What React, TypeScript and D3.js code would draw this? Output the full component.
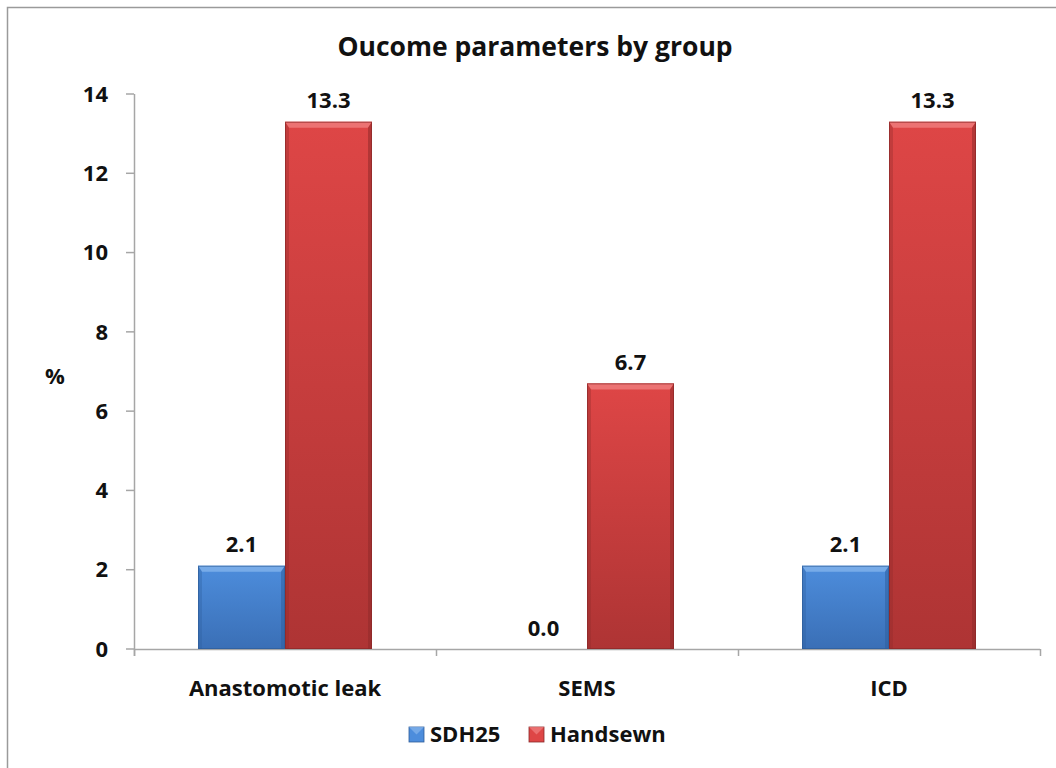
import React, { useEffect, useRef } from "react";
import * as d3 from "d3";

const categories = ["Anastomotic leak", "SEMS", "ICD"];
const seriesNames = ["SDH25", "Handsewn"];
const sdh25Values = [2.1, 0.0, 2.1];
const handsewnValues = [13.3, 6.7, 13.3];
const yTicks = [0, 2, 4, 6, 8, 10, 12, 14];

const seriesColors: Record<string, { top: string; bottom: string; bevel: string; edge: string; stroke: string }> = {
  SDH25: { top: "#4d8ddc", bottom: "#3a6fb6", bevel: "#7fb0ea", edge: "#2f5f9e", stroke: "#2e5d99" },
  Handsewn: { top: "#de4646", bottom: "#ae3434", bevel: "#ee7b7b", edge: "#8f2a2a", stroke: "#8a2828" },
};

const W = 1056;
const H = 768;
const FONT = "'Open Sans', Lato, sans-serif";
const LABEL_SIZE = 22;

export default function App() {
  const ref = useRef<SVGSVGElement | null>(null);

  useEffect(() => {
    const svg = d3.select(ref.current);
    svg.selectAll("*").remove();

    const left = 134;
    const right = 1040;
    const top = 94;
    const bottom = 649;

    const defs = svg.append("defs");
    seriesNames.forEach((s, i) => {
      const g = defs
        .append("linearGradient")
        .attr("id", `grad${i}`)
        .attr("x1", 0)
        .attr("y1", 0)
        .attr("x2", 0)
        .attr("y2", 1);
      g.append("stop").attr("offset", "0%").attr("stop-color", seriesColors[s].top);
      g.append("stop").attr("offset", "100%").attr("stop-color", seriesColors[s].bottom);
    });

    // frame (left and top edges)
    svg
      .append("path")
      .attr("d", `M7.5,${H} L7.5,7.5 L${W},7.5`)
      .attr("fill", "none")
      .attr("stroke", "#9a9a9a")
      .attr("stroke-width", 1.5);

    const y = d3.scaleLinear().domain([0, 14]).range([bottom, top]);
    const x0 = d3.scaleBand<string>().domain(categories).range([left, right]).padding(0);
    const groupW = 174;
    const x1 = d3.scaleBand<string>().domain(seriesNames).range([0, groupW]).padding(0);
    const groupOffset = (x0.bandwidth() - groupW) / 2;

    const label = (sel: any, size = LABEL_SIZE) =>
      sel
        .attr("font-family", FONT)
        .attr("font-weight", "bold")
        .attr("font-size", size)
        .attr("fill", "#111");

    // title
    label(
      svg.append("text").attr("x", 535).attr("y", 47).attr("dy", "0.35em").attr("text-anchor", "middle"),
      26.5
    ).text("Oucome parameters by group");

    // y axis
    const axisColor = "#a6a6a6";
    svg
      .append("line")
      .attr("x1", left + 0.5)
      .attr("x2", left + 0.5)
      .attr("y1", top)
      .attr("y2", bottom + 7)
      .attr("stroke", axisColor)
      .attr("stroke-width", 1.5);
    yTicks.forEach((t) => {
      svg
        .append("line")
        .attr("x1", left - 8)
        .attr("x2", left)
        .attr("y1", y(t))
        .attr("y2", y(t))
        .attr("stroke", axisColor)
        .attr("stroke-width", 1.5);
      label(
        svg.append("text").attr("x", 108).attr("y", y(t)).attr("dy", "0.35em").attr("text-anchor", "end")
      ).text(String(t));
    });

    label(
      svg.append("text").attr("x", 55).attr("y", 376).attr("dy", "0.35em").attr("text-anchor", "middle")
    ).text("%");

    // x axis
    svg
      .append("line")
      .attr("x1", left)
      .attr("x2", right)
      .attr("y1", bottom + 0.5)
      .attr("y2", bottom + 0.5)
      .attr("stroke", axisColor)
      .attr("stroke-width", 1.5);
    [...categories.map((c) => x0(c) as number), right].forEach((tx) => {
      svg
        .append("line")
        .attr("x1", tx + 0.5)
        .attr("x2", tx + 0.5)
        .attr("y1", bottom)
        .attr("y2", bottom + 7)
        .attr("stroke", axisColor)
        .attr("stroke-width", 1.5);
    });

    categories.forEach((c) => {
      label(
        svg
          .append("text")
          .attr("x", (x0(c) as number) + x0.bandwidth() / 2)
          .attr("y", 688)
          .attr("dy", "0.35em")
          .attr("text-anchor", "middle")
      ).text(c);
    });

    // bars
    const valuesBySeries: Record<string, number[]> = { SDH25: sdh25Values, Handsewn: handsewnValues };
    seriesNames.forEach((s, si) => {
      const col = seriesColors[s];
      categories.forEach((c, ci) => {
        const v = valuesBySeries[s][ci];
        const bx = (x0(c) as number) + groupOffset + (x1(s) as number);
        const bw = x1.bandwidth();
        const by = y(v);
        const bh = bottom - by;
        const g = svg.append("g");
        if (bh > 0.5) {
          g.append("rect")
            .attr("x", bx)
            .attr("y", by)
            .attr("width", bw)
            .attr("height", bh)
            .attr("fill", `url(#grad${si})`);
          const b = Math.min(6, bh / 2);
          const e = 4;
          // top bevel
          g.append("path")
            .attr("d", `M${bx},${by} L${bx + bw},${by} L${bx + bw - e},${by + b} L${bx + e},${by + b} Z`)
            .attr("fill", col.bevel)
            .attr("opacity", 0.85);
          // side edges
          g.append("path")
            .attr("d", `M${bx},${by} L${bx + e},${by + b} L${bx + e},${bottom} L${bx},${bottom} Z`)
            .attr("fill", col.edge)
            .attr("opacity", 0.35);
          g.append("path")
            .attr("d", `M${bx + bw},${by} L${bx + bw - e},${by + b} L${bx + bw - e},${bottom} L${bx + bw},${bottom} Z`)
            .attr("fill", col.edge)
            .attr("opacity", 0.55);
          g.append("rect")
            .attr("x", bx + 0.5)
            .attr("y", by + 0.5)
            .attr("width", bw - 1)
            .attr("height", bh - 1)
            .attr("fill", "none")
            .attr("stroke", col.stroke)
            .attr("stroke-width", 1)
            .attr("opacity", 0.7);
        }
        label(
          svg
            .append("text")
            .attr("x", bx + bw / 2)
            .attr("y", by - 21)
            .attr("dy", "0.35em")
            .attr("text-anchor", "middle")
        ).text(v.toFixed(1));
      });
    });

    // legend
    const legendItems = [
      { name: "SDH25", x: 409 },
      { name: "Handsewn", x: 529 },
    ];
    legendItems.forEach((it) => {
      const col = seriesColors[it.name];
      const sz = 15;
      const ly = 727;
      svg
        .append("rect")
        .attr("x", it.x)
        .attr("y", ly)
        .attr("width", sz)
        .attr("height", sz)
        .attr("fill", col.top)
        .attr("stroke", col.stroke)
        .attr("stroke-width", 0.8);
      svg
        .append("path")
        .attr("d", `M${it.x},${ly} L${it.x + sz},${ly} L${it.x + sz / 2},${ly + sz / 2} Z`)
        .attr("fill", col.bevel)
        .attr("opacity", 0.8);
      label(
        svg
          .append("text")
          .attr("x", it.x + sz + 6)
          .attr("y", ly + sz / 2)
          .attr("dy", "0.35em")
      ).text(it.name);
    });
  }, []);

  return (
    <svg
      ref={ref}
      width={W}
      height={H}
      style={{ position: "absolute", left: 0, top: 0, background: "#fff" }}
    />
  );
}
